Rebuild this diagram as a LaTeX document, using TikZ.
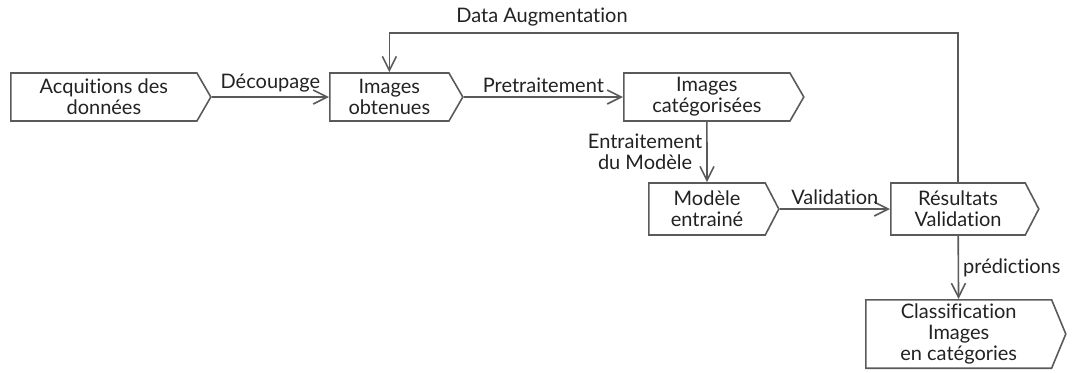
\documentclass[tikz,border=0pt]{standalone}
\usepackage{fontspec}
\setmainfont{Lato}[Ligatures={NoCommon,NoRare}]
\usetikzlibrary{
  arrows.meta, % for Straight Barb arrow tip
  shapes.symbols, % for the signal shaped steps
}
\definecolor{linegray}{HTML}{5A5A5A}
\definecolor{textgray}{HTML}{222222}
\tikzset{
  stage/.style={ % style for each step of the chain
    signal,draw=linegray,line width=0.8pt, % drawn as a pentagon arrow
    signal to=east, % the point is on the right
    signal pointer angle=120,
    align=center,text=textgray,
    inner sep=2pt,
    font=\fontsize{10}{10.5}\selectfont,
  },
  conn/.style={ % style for the connections
    -{Straight Barb[length=7pt,width=7pt]}, % open barbed arrow tip
    draw=linegray,line width=0.8pt,
  },
  lbl/.style={ % style for the connection labels
    text=textgray,inner sep=2pt,align=center,
    font=\fontsize{10}{10.5}\selectfont,
  },
}
\begin{document}
\begin{tikzpicture}[x=0.5pt,y=-0.5pt]
	\useasboundingbox (0,0) rectangle (1084,372);

	\node[stage,anchor=west,minimum width=100pt,minimum height=24pt] (acq) at (10,97) {Acquitions des\\données};
	\node[stage,anchor=west,minimum width=66.5pt,minimum height=24pt] (obt) at (329,97) {Images\\obtenues};
	\node[stage,anchor=west,minimum width=90pt,minimum height=24pt] (cat) at (623,97) {Images\\catégorisées};
	
	\node[stage,anchor=west,signal pointer angle=125,minimum width=65pt,minimum height=26pt] (mod) at (648,209) {Modèle\\entrainé};
	\node[stage,anchor=west,signal pointer angle=125,minimum width=74pt,minimum height=26pt] (res) at (890,209) {Résultats\\Validation};
	
	\node[stage,anchor=west,signal pointer angle=135,minimum width=100pt,minimum height=32pt] (cls) at (865,334) {Classification\\Images\\en catégories};
	
	\draw[conn] (acq) -- node[lbl,above] (decoup) {Découpage} (obt);
	\draw[conn] (obt) -- node[lbl,above] (pretr) {Pretraitement} (cat);
	\draw[conn] (cat) -- node[lbl,left] (entr) {Entraitement\\du Modèle} (mod);
	\draw[conn] (mod) -- node[lbl,above] (valid) {Validation} (res);
	\draw[conn] (res) -- node[lbl,right] (pred) {prédictions} (cls);
	
	% retour vers les images obtenues
	\coordinate (haut) at (680,33);
	\draw[conn] (res.north) |- (haut) -| (obt.north);
	\node[lbl] (augm) at (542,17) {Data Augmentation};

\end{tikzpicture}
\end{document}
